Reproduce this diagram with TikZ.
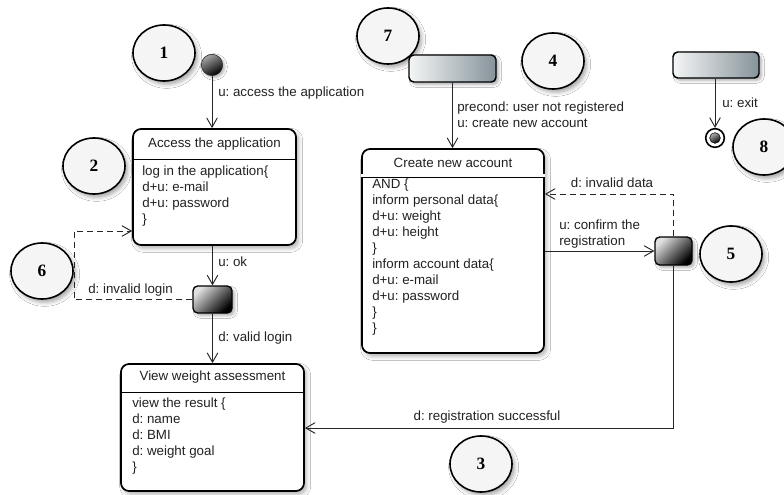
\documentclass[tikz,border=0pt]{standalone}
\usepackage{fontspec}
\setmainfont{Liberation Sans}
\newfontfamily\numfont{Liberation Serif}
\usetikzlibrary{arrows.meta,shadows.blur,shapes.geometric}
\definecolor{pleft}{HTML}{F4F6F6}
\definecolor{pright}{HTML}{86939A}
\definecolor{txt}{HTML}{222222}
\frenchspacing
\begin{document}
\begin{tikzpicture}[x=0.75pt,y=-0.75pt,
  anno/.style={ellipse, draw=black, line width=1.2pt, fill=black!4, minimum width=46.5pt, minimum height=42pt, inner sep=0pt,
    font=\numfont\bfseries\fontsize{13}{13}\selectfont,
    blur shadow={shadow xshift=2pt, shadow yshift=-2.5pt, shadow opacity=35, shadow blur radius=3pt}},
  statebox/.style={rectangle, rounded corners=6pt, draw=black, line width=1.3pt, fill=white, inner sep=0pt,
    blur shadow={shadow xshift=2pt, shadow yshift=-2.5pt, shadow opacity=30, shadow blur radius=3pt}},
  decbox/.style={rectangle, rounded corners=3.5pt, draw=black, line width=1pt, inner sep=0pt,
    top color=black!12, bottom color=black, shading angle=45,
    blur shadow={shadow xshift=2pt, shadow yshift=-2pt, shadow opacity=30, shadow blur radius=2pt}},
  pbox/.style={rectangle, rounded corners=3.5pt, draw=black, line width=1.1pt, inner sep=0pt,
    left color=pleft, right color=pright,
    blur shadow={shadow xshift=2pt, shadow yshift=-2pt, shadow opacity=30, shadow blur radius=2pt}},
  lbl/.style={font=\fontsize{10}{12}\selectfont\frenchspacing, text=txt, inner sep=0pt},
  sep/.style={draw=black, line width=0.6pt},
  arr/.style={draw=black!85, line width=0.7pt, -{Straight Barb[length=7pt,width=8pt,line width=0.7pt]}},
  dsh/.style={dash pattern=on 4.5pt off 3pt}
]
\clip (0,0) rectangle (784,495);
\fill[white] (0,0) rectangle (784,495);

% annotation circles
\node[anno] (n1) at (164,53) {1};
\node[anno] (n2) at (94,166) {2};
\node[anno] (n3) at (481,464) {3};
\node[anno] (n4) at (553,61) {4};
\node[anno] (n5) at (731,254) {5};
\node[anno] (n6) at (42,271) {6};
\node[anno] (n7) at (388,36) {7};
\node[anno] (n8) at (764,147) {8};

% initial and final states
\node[circle, minimum size=16pt, inner sep=0pt, draw=black!80, line width=0.5pt,
  left color=black!35, right color=black, shading angle=30,
  blur shadow={shadow xshift=1.5pt, shadow yshift=-1.5pt, shadow opacity=30, shadow blur radius=2pt}] (init) at (212,65) {};
\node[circle, minimum size=14pt, inner sep=0pt, draw=black, line width=1.2pt, fill=white] (fin) at (715,138) {};
\node[circle, minimum size=8pt, inner sep=0pt, draw=black, line width=0.4pt,
  left color=black!30, right color=black, shading angle=30] (fin2) at (715,138) {};

% pseudo blocks
\node[pbox, minimum width=65.25pt, minimum height=20.25pt] (b7) at (452.5,68.5) {};
\node[pbox, minimum width=64.5pt, minimum height=19.5pt] (bx) at (716,65) {};

% decisions
\node[decbox, minimum width=29.25pt, minimum height=20.25pt] (d1) at (212.5,299.5) {};
\node[decbox, minimum width=27.75pt, minimum height=21pt] (d2) at (673.5,251) {};

% Access the application
\node[statebox, minimum width=122.25pt, minimum height=87pt] (acc) at (214.5,187) {};
\draw[sep] (acc.west |- 0,159) -- (acc.east |- 0,159);
\node[lbl] (acct) at (214.5,144) {Access the application};
\node[lbl, align=left, anchor=north west] (accb) at (142,166) {log in the application\{\\d+u: e-mail\\d+u: password\\\}};

% View weight assessment
\node[statebox, minimum width=137.25pt, minimum height=95.25pt] (view) at (212.5,427.5) {};
\draw[sep] (view.west |- 0,392) -- (view.east |- 0,392);
\node[lbl] (viewt) at (212.5,377) {View weight assessment};
\node[lbl, align=left, anchor=north west] (viewb) at (132,398) {view the result \{\\d: name\\d: BMI\\d: weight goal\\\}};

% Create new account
\node[statebox, minimum width=136.5pt, minimum height=153pt] (cr) at (453,251) {};
\node[lbl] (crt) at (453,163) {Create new account};
\node[lbl, align=left, anchor=north west] (crb) at (372,179) {AND \{\\inform personal data\{\\d+u: weight\\d+u: height\\\}\\inform account data\{\\d+u: e-mail\\d+u: password\\\}\\\}};
\fill[white] (cr.west |- 0,174.5) rectangle (cr.east |- 0,177);
\draw[sep] (cr.west |- 0,177) -- (cr.east |- 0,177);

% coordinates for bends
\coordinate (c6) at (74,231);
\coordinate (c5) at (673.5,194);
\coordinate (c3) at (673.5,428);

% connectors
\draw[arr] (init) -- (init |- acc.north);
\draw[arr] (d1.north |- acc.south) -- (d1.north);
\draw[arr] (d1.south) -- (d1.south |- view.north);
\draw[arr, dsh] (d1.west) -| (c6) -- (c6 -| acc.west);
\draw[arr] (b7.south) -- (b7.south |- cr.north);
\draw[arr] (cr.east |- d2.west) -- (d2.west);
\draw[arr, dsh] (d2.north) -- (c5) -- (c5 -| cr.east);
\draw[arr] (d2.south) -- (c3) -- (c3 -| view.east);
\draw[arr] (bx.south -| fin) -- (fin.north);

% labels
\node[lbl, anchor=west] (l1) at (218,93) {u: access the application};
\node[lbl, anchor=west] (l2) at (218,262) {u: ok};
\node[lbl, anchor=west] (l3) at (218,338) {d: valid login};
\node[lbl, anchor=west] (l4) at (88,290) {d: invalid login};
\node[lbl, anchor=west, align=left] (l5) at (457,114.5) {precond: user not registered\\u: create new account};
\node[lbl, anchor=west, align=left] (l6) at (559,234) {u: confirm the\\registration};
\node[lbl] (l7) at (612,183) {d: invalid data};
\node[lbl] (l8) at (487,417) {d: registration successful};
\node[lbl, anchor=west] (l9) at (722,103) {u: exit};
\end{tikzpicture}
\end{document}
